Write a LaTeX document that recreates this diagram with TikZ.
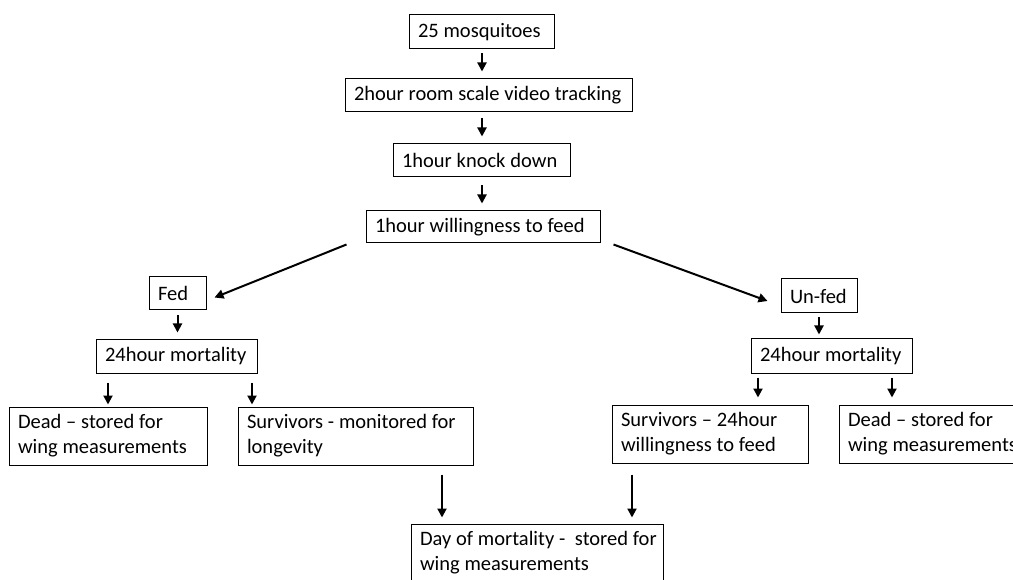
\documentclass[tikz,border=0pt]{standalone}
\usepackage{fontspec}
\setmainfont{Carlito}
\usetikzlibrary{arrows.meta,calc}
\newcommand{\nb}[1]{\mbox{\spaceskip=4.8pt\relax #1}}
\begin{document}
\begin{tikzpicture}[x=1pt,y=-1pt,
  box/.style={draw, line width=1pt, inner xsep=9pt, inner ysep=0pt, align=left,
    font=\fontsize{20.5}{25}\selectfont},
  arr/.style={line width=2pt, -{Triangle[length=9pt,width=9pt]}}]
\clip (0,0) rectangle (1013,580);
\fill[white] (0,0) rectangle (1013,580);
% nodes
\node[box, minimum width=145pt, minimum height=34pt, text width=127pt] (n1) at (481.5,32) {\nb{25 mosquitoes}};
\node[box, minimum width=287pt, minimum height=33pt, text width=269pt] (n2) at (488.5,95.5) {\nb{2hour room scale video tracking}};
\node[box, minimum width=177pt, minimum height=33pt, text width=159pt] (n3) at (481.5,160.5) {\nb{1hour knock down}};
\node[box, minimum width=234pt, minimum height=32pt, text width=216pt] (n4) at (483,227) {\nb{1hour willingness to feed}};
\node[box, minimum width=57pt, minimum height=33pt, text width=39pt] (fed) at (177.5,293.5) {\nb{Fed}};
\node[box, minimum width=161pt, minimum height=33pt, text width=143pt] (lm) at (176.5,356.5) {\nb{24hour mortality}};
\node[box, minimum width=198pt, minimum height=58pt, text width=180pt] (ld) at (108,436) {\nb{Dead -- stored for}\\\nb{wing measurements}};
\node[box, minimum width=235pt, minimum height=58pt, text width=217pt] (ls) at (355.5,436) {\nb{Survivors - monitored for}\\\nb{longevity}};
\node[box, minimum width=76pt, minimum height=34pt, text width=58pt] (uf) at (819,296) {\nb{Un-fed}};
\node[box, minimum width=161pt, minimum height=34pt, text width=143pt] (rm) at (831.5,356) {\nb{24hour mortality}};
\node[box, minimum width=196pt, minimum height=58pt, text width=178pt] (rs) at (710,434) {\nb{Survivors -- 24hour}\\\nb{willingness to feed}};
\node[box, minimum width=198pt, minimum height=58pt, text width=180pt] (rd) at (938,434) {\nb{Dead -- stored for}\\\nb{wing measurements}};
\node[box, minimum width=252pt, minimum height=58pt, text width=234pt] (bt) at (537,553) {\nb{Day of mortality -\ \ stored for}\\\nb{wing measurements}};
% arrow x positions
\coordinate (xa) at (482,0);
\coordinate (xb) at (252,0);
\coordinate (xc) at (758,0);
\coordinate (xd) at (892,0);
\coordinate (xe) at (442,0);
\coordinate (xf) at (632,0);
% connectors
\draw[arr, shorten <=4pt, shorten >=7pt] (n1.south -| xa) -- (n2.north -| xa);
\draw[arr, shorten <=6pt, shorten >=7pt] (n2.south -| xa) -- (n3.north -| xa);
\draw[arr, shorten <=8pt, shorten >=7pt] (n3.south -| xa) -- (n4.north -| xa);
\draw[arr] ([xshift=-19pt,yshift=-1pt]n4.south west) -- ([xshift=8pt,yshift=-4pt]fed.east);
\draw[arr] ([xshift=13pt,yshift=-1pt]n4.south east) -- ([xshift=-13pt,yshift=-5pt]uf.west);
\draw[arr, shorten <=5pt, shorten >=7pt] (fed.south) -- (lm.north -| fed.south);
\draw[arr, shorten <=9pt, shorten >=2pt] (lm.south -| ld.north) -- (ld.north);
\draw[arr, shorten <=9pt, shorten >=2pt] (lm.south -| xb) -- (ls.north -| xb);
\draw[arr, shorten <=4pt, shorten >=4pt] (uf.south) -- (rm.north -| uf.south);
\draw[arr, shorten <=4pt, shorten >=7pt] (rm.south -| xc) -- (rs.north -| xc);
\draw[arr, shorten <=4pt, shorten >=7pt] (rm.south -| xd) -- (rd.north -| xd);
\draw[arr, shorten <=9pt, shorten >=6pt] (ls.south -| xe) -- (bt.north -| xe);
\draw[arr, shorten <=11pt, shorten >=6pt] (rs.south -| xf) -- (bt.north -| xf);
\end{tikzpicture}
\end{document}
